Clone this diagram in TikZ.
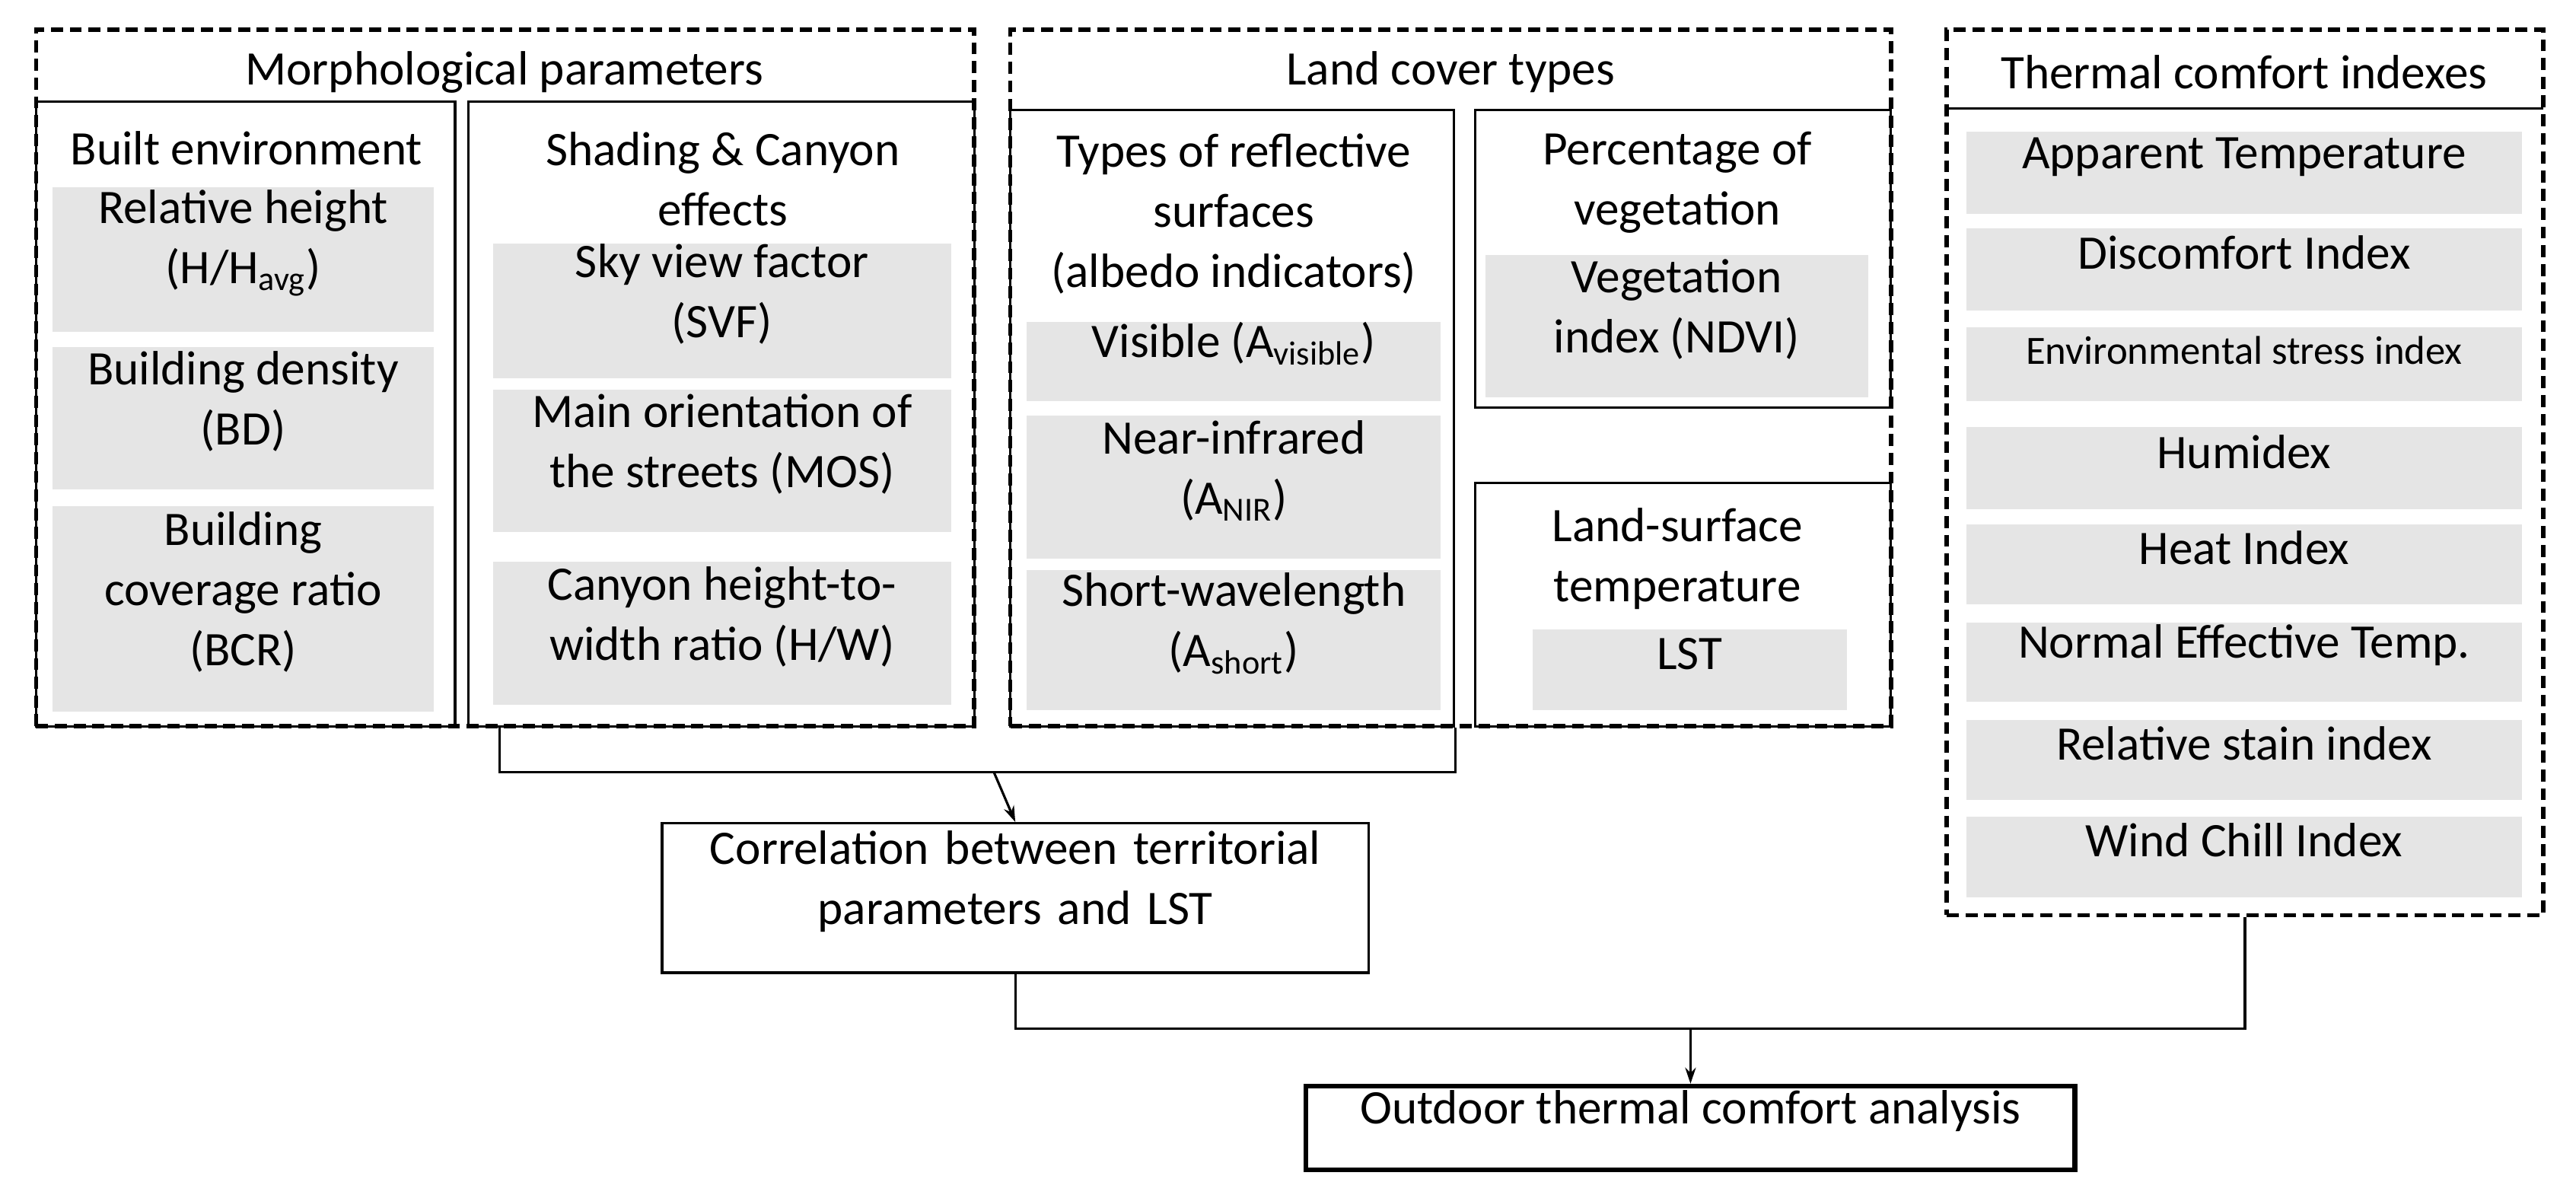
\documentclass[tikz,border=0pt]{standalone}
\usepackage{fontspec}
\setmainfont{Carlito}
\usetikzlibrary{fit,arrows.meta}

\begin{document}
\begin{tikzpicture}[x=0.021588cm,y=-0.021588cm,font=\fontsize{18}{22.5}\selectfont]
  \tikzstyle{group_style} = [draw=black, line width=1.6pt, dash pattern=on 4.5pt off 2.5pt, inner sep=0pt]
  \tikzstyle{panel_style} = [draw=black, line width=0.9pt, inner sep=0pt]
  \tikzstyle{item_style} = [fill=gray!20, inner sep=0pt, align=center]
  \tikzstyle{title_style} = [align=center]
  \tikzstyle{edge_style} = [draw=black, line width=0.9pt]

  \useasboundingbox (0,0) rectangle (1568,729);

  % morphological parameters
  \node[group_style, fit={(22,18) (593,442)}] (M) {};
  \node[title_style] (Mt) at (307,44) {Morphological parameters};
  \node[panel_style, fit={(22,62) (277,442)}] (BE) {};
  \node[panel_style, fit={(285,62) (593,442)}] (SC) {};
  \node[title_style] (BEt) at (150,90) {Built environment};
  \node[title_style] (SCt) at (440,109) {Shading \& Canyon\\effects};
  \node[item_style, fit={(32,114) (264,202)}] (RH) {Relative height\\(H/H\textsubscript{avg})};
  \node[item_style, fit={(32,211) (264,298)}] (BD) {Building density\\(BD)};
  \node[item_style, fit={(32,308) (264,433)}] (BCR) {Building\\coverage ratio\\(BCR)};
  \node[item_style, fit={(300,148) (579,230)}] (SVF) {Sky view factor\\(SVF)};
  \node[item_style, fit={(300,237) (579,324)}] (MOS) {Main orientation of\\the streets (MOS)};
  \node[item_style, fit={(300,342) (579,429)}] (HW) {Canyon height-to-\\width ratio (H/W)};

  % land cover types
  \node[group_style, fit={(615,18) (1151,442)}] (L) {};
  \node[title_style] (Lt) at (883,44) {Land cover types};
  \node[panel_style, fit={(615,67) (885,442)}] (RS) {};
  \node[panel_style, fit={(898,67) (1151,248)}] (PV) {};
  \node[panel_style, fit={(898,294) (1151,442)}] (LS) {};
  \node[title_style] (RSt) at (751,130) {Types of reflective\\surfaces\\(albedo indicators)};
  \node[title_style] (PVt) at (1021,111) {Percentage of\\vegetation};
  \node[title_style] (LSt) at (1021,340) {Land-surface\\temperature};
  \node[item_style, fit={(625,196) (877,244)}] (VIS) {Visible (A\textsubscript{visible})};
  \node[item_style, fit={(625,253) (877,340)}] (NIR) {Near-infrared\\(A\textsubscript{NIR})};
  \node[item_style, fit={(625,347) (877,432)}] (SW) {Short-wavelength\\(A\textsubscript{short})};
  \node[item_style, fit={(904,155) (1137,242)}] (NDVI) {Vegetation\\index (NDVI)};
  \node[item_style, fit={(933,383) (1124,432)}] (LST) {LST};

  % thermal comfort indexes
  \node[group_style, fit={(1185,18) (1548,557)}] (T) {};
  \node[title_style] (Tt) at (1366,44) {Thermal comfort indexes};
  \draw[panel_style] (1185,66) -- (1548,66);
  \node[item_style, fit={(1197,80) (1535,130)}] (AT) {Apparent Temperature};
  \node[item_style, fit={(1197,139) (1535,189)}] (DI) {Discomfort Index};
  \node[item_style, fit={(1197,199) (1535,244)}, font=\fontsize{15}{18}\selectfont] (ESI) {Environmental stress index};
  \node[item_style, fit={(1197,260) (1535,310)}] (HUM) {Humidex};
  \node[item_style, fit={(1197,319) (1535,368)}] (HI) {Heat Index};
  \node[item_style, fit={(1197,379) (1535,427)}] (NET) {Normal Effective Temp.};
  \node[item_style, fit={(1197,438) (1535,487)}] (RSI) {Relative stain index};
  \node[item_style, fit={(1197,497) (1535,546)}] (WCI) {Wind Chill Index};

  % results
  \node[panel_style, fit={(403,501) (833,592)}, align=center] (C) {Correlation between territorial\\parameters and LST};
  \node[draw=black, line width=1.8pt, inner sep=0pt, fit={(795,661) (1263,712)}] (O) {Outdoor thermal comfort analysis};

  \coordinate (j1) at (605,470);
  \coordinate (j2) at (1029,626);
  \draw[edge_style] (SC.south west) ++(20,0) |- (j1) -| (RS.south east) ++(-2,0);
  \draw[edge_style, -{Stealth[length=6pt,width=4pt]}] (j1) -- (C.north);
  \draw[edge_style] (C.south) |- (j2);
  \draw[edge_style] (T.south) |- (j2);
  \draw[edge_style, -{Stealth[length=6pt,width=4pt]}] (j2) -- (O.north -| j2);
\end{tikzpicture}
\end{document}
